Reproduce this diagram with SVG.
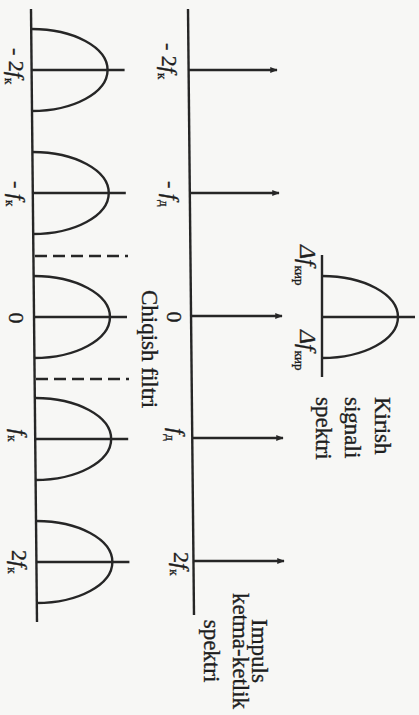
<svg xmlns="http://www.w3.org/2000/svg" width="419" height="715" viewBox="0 0 419 715">
<style>
.ln{stroke:#262626;stroke-width:2.4;fill:none}
.lobe path{stroke:#262626;stroke-width:2.4;fill:none}
.dash{stroke:#262626;stroke-width:2.4;stroke-dasharray:12 6;fill:none}
.t{font-family:"Liberation Serif","Times New Roman",serif;fill:#1e1e1e;stroke:#1e1e1e;stroke-width:0.35;font-size:23px}
.lb{font-family:"Liberation Serif","Times New Roman",serif;fill:#1e1e1e;stroke:#1e1e1e;stroke-width:0.35;font-size:22px}
.i{font-style:italic}
.sub{font-size:13px;font-style:normal}
.arr{stroke:#262626;stroke-width:2.4;fill:none;marker-end:url(#ah)}
</style>
<defs>
<marker id="ah" viewBox="0 0 10 8" refX="9" refY="4" markerWidth="9" markerHeight="6" markerUnits="userSpaceOnUse" orient="auto"><path d="M0,0 L10,4 L0,8 z" fill="#262626"/></marker>
<g id="lobeShape" class="lobe"><path d="M0,-41 A76,41 0 0 1 0,41"/><path d="M0,0 H93"/></g>
</defs>
<rect x="0" y="0" width="419" height="715" fill="#f7f7f5"/>

<g id="input-spectrum">
<line class="ln" x1="322" y1="255" x2="322" y2="377"/>
<use href="#lobeShape" transform="translate(322,317)"/>
<text class="lb" transform="translate(300,245) rotate(90)"><tspan class="i" font-size="24">Δf</tspan><tspan class="sub" font-size="14" dy="5">кир</tspan></text>
<text class="lb" transform="translate(300,330) rotate(90)"><tspan class="i" font-size="24">Δf</tspan><tspan class="sub" font-size="14" dy="5">кир</tspan></text>
<text class="t" transform="translate(375,397) rotate(90)">Kirish</text>
<text class="t" transform="translate(345,397) rotate(90)">signali</text>
<text class="t" transform="translate(316,397) rotate(90)">spektri</text>
</g>

<g id="pulse-spectrum">
<line class="ln" x1="188" y1="9" x2="194" y2="615"/>
<text class="lb" transform="translate(162,43) rotate(90)">- 2<tspan class="i">f</tspan><tspan class="sub" dy="4">к</tspan></text>
<text class="lb" transform="translate(164,181) rotate(90)">- <tspan class="i">f</tspan><tspan class="sub" dy="4">д</tspan></text>
<text class="lb" transform="translate(167,317) rotate(90)" text-anchor="middle">0</text>
<text class="lb" transform="translate(170,428) rotate(90)"><tspan class="i">f</tspan><tspan class="sub" dy="4">д</tspan></text>
<text class="lb" transform="translate(174,552) rotate(90)">2<tspan class="i">f</tspan><tspan class="sub" dy="4">к</tspan></text>
<text class="t" transform="translate(252,651) rotate(90)" text-anchor="middle">Impuls</text>
<text class="t" transform="translate(233,651) rotate(90)" text-anchor="middle">ketma-ketlik</text>
<text class="t" transform="translate(204,651) rotate(90)" text-anchor="middle">spektri</text>
<text class="t" transform="translate(142,290) rotate(90)">Chiqish filtri</text>
</g>

<g id="connectors">
<line class="arr" x1="188.6" y1="70" x2="277" y2="70"/>
<line class="arr" x1="189.8" y1="193" x2="279" y2="193"/>
<line class="arr" x1="191" y1="316" x2="282" y2="316"/>
<line class="arr" x1="192.2" y1="438" x2="283" y2="438"/>
<line class="arr" x1="193.5" y1="561" x2="284" y2="561"/>
</g>

<g id="output-spectrum">
<line class="ln" x1="31" y1="9" x2="37" y2="622"/>
<use href="#lobeShape" transform="translate(31.6,70)"/>
<use href="#lobeShape" transform="translate(32.8,193)"/>
<use href="#lobeShape" transform="translate(34,317)"/>
<use href="#lobeShape" transform="translate(35.2,439)"/>
<use href="#lobeShape" transform="translate(36.4,562)"/>
<line class="dash" x1="35" y1="256" x2="128" y2="256"/>
<line class="dash" x1="36" y1="379" x2="129" y2="379"/>
<text class="lb" transform="translate(9,48) rotate(90)">- 2<tspan class="i">f</tspan><tspan class="sub" dy="4">к</tspan></text>
<text class="lb" transform="translate(10,181) rotate(90)">- <tspan class="i">f</tspan><tspan class="sub" dy="4">к</tspan></text>
<text class="lb" transform="translate(9,318) rotate(90)" text-anchor="middle">0</text>
<text class="lb" transform="translate(12,429) rotate(90)"><tspan class="i">f</tspan><tspan class="sub" dy="4">к</tspan></text>
<text class="lb" transform="translate(12,550) rotate(90)">2<tspan class="i">f</tspan><tspan class="sub" dy="4">к</tspan></text>
</g>
</svg>
